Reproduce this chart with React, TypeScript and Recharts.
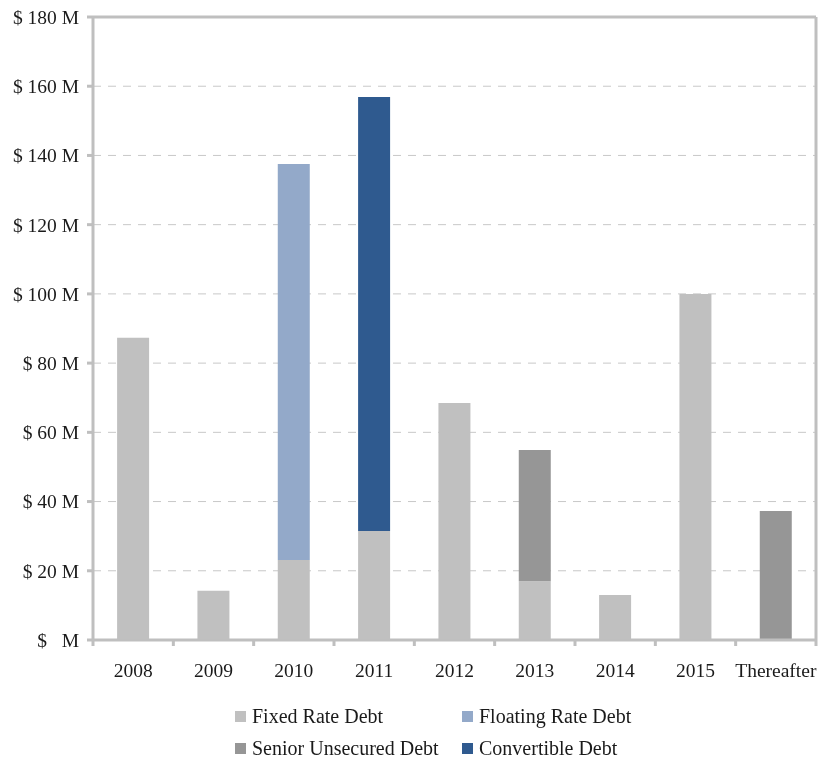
import {
  BarChart,
  Bar,
  XAxis,
  YAxis,
  CartesianGrid,
  Legend,
  ReferenceLine,
} from "recharts";

const years = ["2008", "2009", "2010", "2011", "2012", "2013", "2014", "2015", "Thereafter"];
const fixedRate = [87.3, 14.2, 23.1, 31.5, 68.5, 17.0, 13.0, 100.0, 0];
const floatingRate = [0, 0, 114.4, 0, 0, 0, 0, 0, 0];
const seniorUnsecured = [0, 0, 0, 0, 0, 37.9, 0, 0, 37.3];
const convertible = [0, 0, 0, 125.4, 0, 0, 0, 0, 0];
const yTicks = [0, 20, 40, 60, 80, 100, 120, 140, 160, 180];

const seriesNames = ["Fixed Rate Debt", "Floating Rate Debt", "Senior Unsecured Debt", "Convertible Debt"];
const seriesColors = ["#c0c0c0", "#93a9c9", "#969696", "#2f5a8f"];

const data = years.map((year, i) => ({
  year,
  fixed: fixedRate[i],
  floating: floatingRate[i],
  senior: seniorUnsecured[i],
  convertible: convertible[i],
}));

const gray = "#bfbfbf";
const textColor = "#1a1a1a";
const font = "'Liberation Serif', serif";

const XTick = (props: any) => {
  const { x, y, payload, index, width, visibleTicksCount } = props;
  const band = width && visibleTicksCount ? width / visibleTicksCount : 80.3;
  return (
    <g>
      <line x1={x - band / 2} x2={x - band / 2} y1={y} y2={y + 6} stroke={gray} strokeWidth={3} />
      {index === visibleTicksCount - 1 && (
        <line x1={x + band / 2} x2={x + band / 2} y1={y} y2={y + 6} stroke={gray} strokeWidth={3} />
      )}
      <text x={x} y={y + 30} dy="0.35em" textAnchor="middle" fill={textColor} fontSize={19.5} fontFamily={font}>
        {payload.value}
      </text>
    </g>
  );
};

const LegendBox = () => {
  const cols = [235, 462];
  const rows = [26, 58];
  return (
    <div style={{ position: "relative", height: 65, width: 800, fontFamily: font, fontSize: 20, color: textColor }}>
      {seriesNames.map((name, i) => (
        <div
          key={name}
          style={{
            position: "absolute",
            left: cols[i % 2],
            top: rows[Math.floor(i / 2)] - 11,
            display: "flex",
            alignItems: "center",
            whiteSpace: "nowrap",
            lineHeight: "22px",
          }}
        >
          <span style={{ display: "inline-block", width: 11, height: 11, background: seriesColors[i], marginRight: 6 }} />
          {name}
        </div>
      ))}
    </div>
  );
};

const yFormat = (v: number) => (v === 0 ? "$\u00a0\u00a0\u00a0M" : `$ ${v} M`);

export default function App() {
  return (
    <div style={{ position: "fixed", left: 0, top: 0, width: 822, height: 755, overflow: "visible" }}>
      <style>{`html, body { overflow: hidden; }`}</style>
      <BarChart
        width={822}
        height={755}
        data={data}
        margin={{ top: 17, right: 6, bottom: 0, left: 0 }}
        barCategoryGap="30%"
        style={{ fontFamily: font }}
      >
        <CartesianGrid vertical={false} stroke="#c8c8c8" strokeDasharray="8 7" />
        <XAxis
          dataKey="year"
          height={50}
          axisLine={{ stroke: gray, strokeWidth: 3 }}
          tickLine={false}
          tickSize={0}
          tickMargin={0}
          tick={<XTick />}
          interval={0}
        />
        <YAxis
          domain={[0, 180]}
          ticks={yTicks}
          width={93}
          tickFormatter={yFormat}
          axisLine={{ stroke: gray, strokeWidth: 3 }}
          tickLine={{ stroke: gray, strokeWidth: 3 }}
          tickSize={6}
          tickMargin={8}
          tick={{ fill: textColor, fontSize: 19.5, fontFamily: font }}
        />
        <ReferenceLine y={180} stroke={gray} strokeWidth={3} />
        <ReferenceLine x={years[years.length - 1]} position="end" stroke={gray} strokeWidth={3} />
        <Legend verticalAlign="bottom" content={<LegendBox />} />
        <Bar dataKey="fixed" name={seriesNames[0]} stackId="a" fill={seriesColors[0]} isAnimationActive={false} />
        <Bar dataKey="floating" name={seriesNames[1]} stackId="a" fill={seriesColors[1]} isAnimationActive={false} />
        <Bar dataKey="senior" name={seriesNames[2]} stackId="a" fill={seriesColors[2]} isAnimationActive={false} />
        <Bar dataKey="convertible" name={seriesNames[3]} stackId="a" fill={seriesColors[3]} isAnimationActive={false} />
      </BarChart>
    </div>
  );
}
